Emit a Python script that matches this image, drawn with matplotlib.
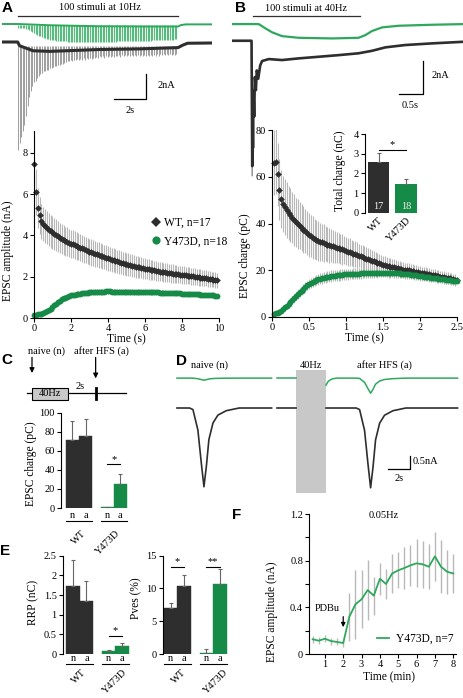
import matplotlib
matplotlib.use('Agg')
import matplotlib.pyplot as plt
import numpy as np
from matplotlib.patches import Rectangle
from matplotlib.ticker import FormatStrFormatter, MultipleLocator
from matplotlib.transforms import blended_transform_factory

# ---- data ----
# A: EPSC amplitude (nA) for 100 stimuli at 10 Hz
wt_amp_10hz = [7.46, 6.10, 5.32, 4.97, 4.68, 4.55, 4.45, 4.36, 4.28, 4.20,
               4.14, 4.07, 4.01, 3.95, 3.88, 3.83, 3.77, 3.72, 3.68, 3.64,
               3.60, 3.57, 3.53, 3.49, 3.45, 3.41, 3.37, 3.33, 3.29, 3.24,
               3.20, 3.17, 3.14, 3.11, 3.08, 3.05, 3.02, 2.99, 2.95, 2.91,
               2.88, 2.86, 2.83, 2.80, 2.77, 2.74, 2.71, 2.68, 2.65, 2.62,
               2.60, 2.58, 2.56, 2.54, 2.51, 2.49, 2.47, 2.45, 2.43, 2.41,
               2.39, 2.37, 2.35, 2.33, 2.32, 2.30, 2.28, 2.26, 2.25, 2.23,
               2.22, 2.21, 2.19, 2.18, 2.16, 2.15, 2.14, 2.12, 2.11, 2.10,
               2.09, 2.08, 2.06, 2.05, 2.04, 2.03, 2.01, 2.00, 1.99, 1.97,
               1.96, 1.95, 1.93, 1.92, 1.90, 1.89, 1.87, 1.86, 1.84, 1.83]
wt_amp_10hz_sem = [1.30, 1.10, 0.95, 0.90, 0.85, 0.83, 0.82, 0.80, 0.80, 0.79,
                   0.78, 0.77, 0.76, 0.75, 0.74, 0.72, 0.71, 0.70, 0.70, 0.69,
                   0.68, 0.68, 0.67, 0.67, 0.66, 0.66, 0.65, 0.65, 0.64, 0.64,
                   0.63, 0.63, 0.62, 0.62, 0.62, 0.61, 0.61, 0.60, 0.60, 0.60,
                   0.59, 0.59, 0.58, 0.58, 0.58, 0.57, 0.57, 0.56, 0.56, 0.56,
                   0.55, 0.55, 0.54, 0.54, 0.53, 0.53, 0.52, 0.52, 0.51, 0.51,
                   0.50, 0.50, 0.49, 0.49, 0.48, 0.48, 0.47, 0.47, 0.47, 0.46,
                   0.46, 0.46, 0.45, 0.45, 0.45, 0.44, 0.44, 0.44, 0.43, 0.43,
                   0.43, 0.42, 0.42, 0.42, 0.41, 0.41, 0.41, 0.40, 0.40, 0.40,
                   0.40, 0.39, 0.39, 0.39, 0.39, 0.38, 0.38, 0.38, 0.38, 0.37]
y473d_amp_10hz = [0.15, 0.16, 0.17, 0.18, 0.20, 0.23, 0.27, 0.32, 0.38, 0.45,
                  0.53, 0.61, 0.69, 0.77, 0.84, 0.90, 0.95, 0.99, 1.03, 1.06,
                  1.09, 1.11, 1.13, 1.15, 1.17, 1.18, 1.20, 1.21, 1.22, 1.23,
                  1.24, 1.25, 1.25, 1.26, 1.26, 1.27, 1.27, 1.28, 1.28, 1.29,
                  1.29, 1.29, 1.28, 1.28, 1.28, 1.27, 1.27, 1.27, 1.27, 1.26,
                  1.26, 1.26, 1.26, 1.26, 1.25, 1.25, 1.25, 1.25, 1.25, 1.25,
                  1.25, 1.25, 1.24, 1.24, 1.24, 1.24, 1.24, 1.24, 1.23, 1.23,
                  1.23, 1.23, 1.22, 1.22, 1.21, 1.21, 1.20, 1.20, 1.19, 1.19,
                  1.18, 1.18, 1.17, 1.17, 1.16, 1.16, 1.15, 1.15, 1.14, 1.14,
                  1.13, 1.13, 1.12, 1.12, 1.11, 1.11, 1.10, 1.09, 1.08, 1.07]
y473d_amp_10hz_sem = [0.04, 0.04, 0.04, 0.05, 0.05, 0.06, 0.06, 0.07, 0.08, 0.08,
                      0.09, 0.09, 0.10, 0.10, 0.11, 0.11, 0.11, 0.12, 0.12, 0.12,
                      0.12, 0.13, 0.12, 0.13, 0.13, 0.12, 0.13, 0.13, 0.13, 0.12,
                      0.13, 0.13, 0.12, 0.13, 0.13, 0.13, 0.12, 0.13, 0.13, 0.13,
                      0.13, 0.12, 0.13, 0.13, 0.12, 0.13, 0.12, 0.13, 0.12, 0.12,
                      0.12, 0.12, 0.13, 0.12, 0.12, 0.12, 0.12, 0.11, 0.12, 0.12,
                      0.12, 0.11, 0.12, 0.11, 0.12, 0.11, 0.11, 0.11, 0.12, 0.11,
                      0.11, 0.11, 0.11, 0.10, 0.11, 0.11, 0.10, 0.11, 0.10, 0.10,
                      0.10, 0.11, 0.10, 0.10, 0.10, 0.10, 0.10, 0.09, 0.10, 0.10,
                      0.10, 0.09, 0.10, 0.09, 0.09, 0.10, 0.09, 0.09, 0.09, 0.09]

# A: example WT trace, peak current of each EPSC (nA) and the tonic level
trace_a_wt_peak = [8.6, 8.1, 7.6, 7.1, 6.6, 5.9, 5.1, 4.4, 3.9, 3.5,
                   3.2, 3.1, 2.85, 2.75, 2.55, 2.5, 2.35, 2.35, 2.2, 2.2,
                   2.1, 2.1, 2.0, 1.95, 1.95, 1.85, 1.85, 1.75, 1.75, 1.65,
                   1.6, 1.5, 1.55, 1.45, 1.5, 1.4, 1.45, 1.35, 1.45, 1.35,
                   1.4, 1.3, 1.4, 1.3, 1.35, 1.25, 1.35, 1.25, 1.3, 1.2,
                   1.25, 1.15, 1.2, 1.15, 1.25, 1.1, 1.2, 1.1, 1.2, 1.1,
                   1.2, 1.1, 1.15, 1.05, 1.2, 1.05, 1.15, 1.05, 1.15, 1.05,
                   1.15, 1.05, 1.1, 1.0, 1.15, 1.0, 1.1, 1.0, 1.15, 1.0,
                   1.1, 1.0, 1.1, 1.0, 1.1, 1.0, 1.1, 0.95, 1.1, 0.95,
                   1.05, 0.95, 1.05, 0.95, 1.05, 0.95, 1.05, 0.95, 1.05, 0.95]
trace_a_wt_tonic_t = [-1.0, -0.02, 0.1, 0.94, 2.0, 3.06, 5.1, 7.6, 10.0, 10.3, 10.6, 12.1]
trace_a_wt_tonic = [0.0, 0.0, -0.3, -0.7, -0.75, -0.7, -0.6, -0.55, -0.45, -0.25, -0.1, -0.08]
trace_a_y_tonic_t = [-1.0, 0.0, 2.0, 5.0, 8.0, 10.0, 10.2, 10.5, 12.1]
trace_a_y_tonic = [0.0, 0.0, -0.1, -0.18, -0.2, -0.2, -0.08, -0.03, -0.03]

# B: EPSC charge (pC) for 100 stimuli at 40 Hz
wt_q_40hz = [66.0, 66.5, 61.0, 54.5, 50.5, 48.5, 47.0, 45.8, 44.6, 43.5,
             42.5, 41.5, 40.6, 39.8, 39.0, 38.2, 37.4, 36.7, 36.0, 35.2,
             34.6, 34.0, 33.4, 32.9, 32.5, 32.1, 31.9, 31.6, 31.3, 31.0,
             30.7, 30.5, 30.2, 29.9, 29.7, 29.4, 29.1, 28.9, 28.6, 28.3,
             28.0, 27.7, 27.4, 27.1, 26.9, 26.6, 26.3, 26.0, 25.6, 25.3,
             25.0, 24.7, 24.4, 24.1, 23.8, 23.5, 23.3, 23.0, 22.7, 22.4,
             22.2, 22.0, 21.8, 21.6, 21.4, 21.2, 21.0, 20.8, 20.6, 20.4,
             20.3, 20.1, 20.0, 19.9, 19.7, 19.6, 19.4, 19.3, 19.1, 19.0,
             18.9, 18.7, 18.5, 18.4, 18.2, 18.1, 17.9, 17.8, 17.6, 17.4,
             17.3, 17.1, 17.0, 16.8, 16.6, 16.5, 16.3, 16.1, 15.9, 15.7]
wt_q_40hz_sem = [14.0, 14.0, 13.5, 13.0, 12.5, 12.0, 12.0, 12.0, 11.5, 11.5,
                 11.0, 11.0, 10.5, 10.5, 10.0, 10.0, 10.0, 9.5, 9.5, 9.5,
                 9.0, 9.0, 8.5, 8.5, 8.5, 8.0, 8.0, 8.0, 7.5, 7.5,
                 7.5, 7.0, 7.0, 7.0, 6.5, 6.5, 6.5, 6.5, 6.0, 6.0,
                 6.0, 6.0, 5.5, 5.5, 5.5, 5.5, 5.0, 5.0, 5.0, 5.0,
                 4.8, 4.7, 4.6, 4.5, 4.4, 4.3, 4.2, 4.1, 4.0, 3.9,
                 3.8, 3.7, 3.6, 3.6, 3.5, 3.4, 3.4, 3.3, 3.2, 3.2,
                 3.1, 3.1, 3.0, 3.0, 2.9, 2.9, 2.8, 2.8, 2.8, 2.7,
                 2.7, 2.7, 2.7, 2.6, 2.6, 2.6, 2.6, 2.6, 2.5, 2.5,
                 2.5, 2.5, 2.5, 2.5, 2.5, 2.5, 2.5, 2.5, 2.5, 2.5]
y473d_q_40hz = [1.4, 1.6, 1.9, 2.3, 2.7, 3.3, 4.1, 4.9, 5.7, 6.5,
                7.3, 8.1, 8.9, 9.7, 10.5, 11.3, 12.1, 12.8, 13.5, 14.1,
                14.6, 15.0, 15.4, 15.8, 16.1, 16.4, 16.6, 16.8, 17.0, 17.2,
                17.3, 17.5, 17.6, 17.7, 17.8, 17.9, 18.0, 18.1, 18.2, 18.3,
                18.3, 18.4, 18.4, 18.5, 18.5, 18.6, 18.6, 18.7, 18.7, 18.8,
                18.8, 18.8, 18.9, 18.9, 18.9, 19.0, 19.0, 19.0, 19.0, 19.0,
                19.0, 19.0, 18.9, 18.9, 18.9, 18.8, 18.8, 18.7, 18.7, 18.6,
                18.5, 18.4, 18.3, 18.2, 18.1, 18.0, 17.9, 17.8, 17.7, 17.5,
                17.4, 17.3, 17.2, 17.1, 16.9, 16.8, 16.7, 16.6, 16.5, 16.4,
                16.3, 16.2, 16.1, 16.0, 15.9, 15.8, 15.7, 15.6, 15.4, 15.3]
y473d_q_40hz_sem = [0.5, 0.6, 0.7, 0.8, 0.9, 1.0, 1.1, 1.2, 1.3, 1.4,
                    1.5, 1.6, 1.7, 1.8, 1.9, 2.0, 2.0, 2.1, 2.1, 2.2,
                    2.2, 2.3, 2.3, 2.3, 2.4, 2.4, 2.4, 2.4, 2.4, 2.4,
                    2.4, 2.4, 2.4, 2.4, 2.4, 2.4, 2.4, 2.3, 2.4, 2.3,
                    2.3, 2.3, 2.3, 2.3, 2.3, 2.3, 2.2, 2.3, 2.2, 2.2,
                    2.2, 2.2, 2.2, 2.2, 2.2, 2.1, 2.2, 2.1, 2.1, 2.1,
                    2.1, 2.1, 2.1, 2.1, 2.0, 2.1, 2.0, 2.0, 2.0, 2.0,
                    2.0, 2.0, 2.0, 1.9, 2.0, 1.9, 1.9, 1.9, 1.9, 1.9,
                    1.9, 1.9, 1.8, 1.9, 1.8, 1.8, 1.8, 1.8, 1.8, 1.8,
                    1.8, 1.7, 1.8, 1.7, 1.7, 1.7, 1.7, 1.7, 1.7, 1.7]

# B: example traces at 40 Hz (s, nA)
trace_b_wt_t = [-0.42, -0.01, 0.005, 0.012, 0.02, 0.03, 0.045, 0.06, 0.08, 0.1, 0.13,
                0.17, 0.21, 0.35, 0.625, 0.97, 1.39, 1.81, 2.22, 2.5, 2.78, 3.19, 3.75, 4.42]
trace_b_wt = [0.0, 0.0, -7.6, -4.0, -6.5, -3.0, -4.6, -2.2, -3.0, -1.8, -2.3,
              -1.5, -1.23, -1.11, -1.17, -1.07, -0.97, -0.87, -0.76, -0.61, -0.4, -0.26, -0.16, -0.06]
trace_b_y_t = [-0.42, 0.14, 0.28, 0.42, 0.625, 0.97, 1.67, 2.22, 2.36, 2.5, 2.71, 3.06, 3.75, 4.42]
trace_b_y = [0.0, 0.0, -0.26, -0.5, -0.73, -0.83, -0.87, -0.83, -0.67, -0.42, -0.2, -0.1, -0.04, 0.0]

# B inset: total charge (nC)
groups = ['WT', 'Y473D']
total_charge = [2.6, 1.45]
total_charge_sem = [0.42, 0.27]
total_charge_n = [17, 18]

# C: EPSC charge naive (n) / after HFS (a)
conds = ['n', 'a', 'n', 'a']
epsc_q = [71.0, 75.5, 1.0, 25.0]
epsc_q_sem = [20.5, 17.5, 0.5, 10.3]

# D: example EPSCs, naive and after HFS
epsc_dt = [-1.3, -1.0, -0.55, -0.24, 0.0, 0.22, 0.45, 0.82, 1.27, 2.03, 3.2]
epsc_shape = [0.0, 0.02, 0.28, 0.70, 1.0, 0.74, 0.40, 0.19, 0.09, 0.034, 0.0]
d_peak_t = [2.45, 17.6]
d_wt_amp = [3.03, 3.07]
d_y_amp = [0.08, 0.58]

# E: RRP and Pves
rrp = [1.73, 1.35, 0.07, 0.20]
rrp_sem = [0.66, 0.51, 0.03, 0.08]
pves = [7.0, 10.4, 0.2, 10.7]
pves_sem = [0.8, 1.7, 0.5, 2.3]

# F: PDBu, one sweep every 20 s
f_time = np.arange(1, 25) / 3
f_amp = [0.126, 0.114, 0.131, 0.111, 0.103, 0.094, 0.32, 0.426, 0.469, 0.548, 0.50, 0.645,
         0.60, 0.69, 0.717, 0.737, 0.76, 0.777, 0.769, 0.748, 0.837, 0.748, 0.705, 0.69]
f_sem = [0.03, 0.03, 0.03, 0.03, 0.03, 0.03, 0.206, 0.294, 0.25, 0.257, 0.163, 0.137,
         0.131, 0.171, 0.154, 0.177, 0.174, 0.206, 0.203, 0.194, 0.211, 0.229, 0.19, 0.171]

t_10hz = np.arange(100) / 10.0
t_40hz = np.arange(1, 101) / 40.0

# ---- style ----
plt.rcParams['font.family'] = ['Liberation Serif', 'DejaVu Serif']
plt.rcParams['font.size'] = 7.5
plt.rcParams['axes.linewidth'] = 0.8
for k in ('xtick', 'ytick'):
    plt.rcParams[k + '.major.size'] = 3
    plt.rcParams[k + '.minor.size'] = 3
    plt.rcParams[k + '.major.width'] = 0.8
    plt.rcParams[k + '.minor.width'] = 0.8
    plt.rcParams[k + '.major.pad'] = 1.5
    plt.rcParams[k + '.labelsize'] = 7.5
plt.rcParams['axes.labelsize'] = 8.3

DARK = '#2e2e2e'
GREEN = '#168a47'
GREEN_TR = '#2ea85c'
GREEN_LT = '#55bd7c'
GREY = '#b8b8b8'
ERR = '#666666'
SANS = 'Liberation Sans'

W, H = 464, 698
fig = plt.figure(figsize=(W / 100, H / 100), dpi=100)


def px_axes(left, top, right, bottom):
    return fig.add_axes([left / W, 1 - bottom / H, (right - left) / W, (bottom - top) / H])


def fig_text(x, y, s, **kw):
    fig.text(x / W, 1 - y / H, s, **kw)


def clean(ax):
    ax.spines['top'].set_visible(False)
    ax.spines['right'].set_visible(False)
    ax.patch.set_alpha(0)


def group_axis(ax, pos, under, dy, dx=(0, 0), pad=1.5):
    ax.spines['bottom'].set_visible(False)
    ax.set_xticks(pos)
    ax.set_xticklabels(conds)
    ax.tick_params(axis='x', length=0, pad=pad)
    tr = blended_transform_factory(ax.transData, ax.transAxes)
    for gi, g in enumerate(groups):
        p0, p1 = pos[2 * gi], pos[2 * gi + 1]
        ax.plot([p0 - 0.5, p1 + 0.5], [under, under], transform=tr, color='k', lw=0.8, clip_on=False)
        ax.annotate(g, xy=((p0 + p1) / 2, 0), xycoords=tr, xytext=(dx[gi], dy),
                    textcoords='offset points', rotation=45, ha='right', va='top',
                    rotation_mode='anchor', annotation_clip=False)


def sig(ax, x0, x1, y, s):
    ax.plot([x0, x1], [y, y], color='k', lw=0.8, clip_on=False)
    ax.annotate(s, xy=((x0 + x1) / 2, y), xytext=(0, 0.5), textcoords='offset points',
                ha='center', va='bottom', annotation_clip=False)


def bar_panel(ax, vals, sems, pos):
    colors = [DARK, DARK, GREEN, GREEN]
    ax.bar(pos, vals, width=1.0, color=colors, edgecolor=colors, lw=0.3)
    ax.errorbar(pos, vals, yerr=[np.zeros(len(vals)), sems], fmt='none', ecolor=ERR,
                elinewidth=0.8, capsize=1.5, capthick=0.8)
    clean(ax)


# ---- A: traces ----
ax = px_axes(2, 0, 212, 160)
ax.set_xlim(-1.0, 12.125)
ax.set_ylim(-9.44, 3.36)
ax.axis('off')
g_off = 1.44
ax.vlines(t_10hz, g_off - 0.1, g_off - 0.15 - np.array(y473d_amp_10hz), color=GREEN_LT, lw=0.8)
ax.plot(trace_a_y_tonic_t, np.array(trace_a_y_tonic) + g_off, color=GREEN_TR, lw=1.4)
ax.vlines(t_10hz, -0.35, -np.array(trace_a_wt_peak), color='#a0a0a0', lw=0.75)
ax.plot(trace_a_wt_tonic_t, trace_a_wt_tonic, color=DARK, lw=2.2)
ax.plot([0, 10], [2.08, 2.08], color=DARK, lw=0.9)
ax.text(5.1, 2.75, '100 stimuli at 10Hz', ha='center', va='center')
ax.plot([6, 8, 8], [-4.56, -4.56, -2.56], color='k', lw=0.9)
ax.text(8.7, -3.44, '2nA', ha='left', va='center')
ax.text(7.0, -5.45, '2s', ha='center', va='center')

# ---- A: amplitudes ----
ax = px_axes(34, 131, 219, 318)
ax.errorbar(t_10hz, wt_amp_10hz, yerr=wt_amp_10hz_sem, fmt='none', ecolor=GREY, elinewidth=0.8)
ax.errorbar(t_10hz, y473d_amp_10hz, yerr=y473d_amp_10hz_sem, fmt='none', ecolor=GREY, elinewidth=0.8)
ax.plot(t_10hz, wt_amp_10hz, 'D', color=DARK, ms=3.4, mew=0, clip_on=False, label='WT, n=17')
ax.plot(t_10hz, y473d_amp_10hz, 'o', color=GREEN, ms=4.2, mew=0, clip_on=False, label='Y473D, n=18')
ax.set_xlim(0, 10)
ax.set_ylim(0, 9.05)
ax.set_xticks([0, 2, 4, 6, 8, 10])
ax.set_yticks([0, 2, 4, 6, 8])
ax.set_xlabel('Time (s)')
ax.set_ylabel('EPSC amplitude (nA)')
ax.xaxis.set_label_coords(0.5, -0.08)
ax.yaxis.set_label_coords(-0.108, 0.36)
ax.legend(loc='upper left', bbox_to_anchor=(0.635, 0.54), frameon=False, handlelength=0.7,
          handletextpad=0.4, labelspacing=0.55, borderpad=0, borderaxespad=0, fontsize=8.3,
          markerscale=1.4)
clean(ax)

# ---- B: traces ----
ax = px_axes(232, 0, 464, 180)
ax.set_xlim(-0.417, 4.417)
ax.set_ylim(-8.44, 2.47)
ax.axis('off')
ax.plot(trace_b_y_t, np.array(trace_b_y) + 1.01, color=GREEN_TR, lw=1.6)
ax.plot(trace_b_wt_t[:4], [0.0, 0.0, -8.2, -4.0], color='#9a9a9a', lw=0.8)
ax.plot(trace_b_wt_t, trace_b_wt, color=DARK, lw=1.9)
ax.plot([0.02, 2.25], [1.5, 1.5], color=DARK, lw=0.9)
ax.text(1.125, 1.98, '100 stimuli at 40Hz', ha='center', va='center')
ax.plot([3.06, 3.56, 3.56], [-3.23, -3.23, -1.23], color='k', lw=0.9)
ax.text(3.75, -2.08, '2nA', ha='left', va='center')
ax.text(3.29, -3.9, '0.5s', ha='center', va='center')

# ---- B: charge ----
ax = px_axes(272, 130, 457, 317)
ax.errorbar(t_40hz, wt_q_40hz, yerr=wt_q_40hz_sem, fmt='none', ecolor=GREY, elinewidth=0.8)
ax.errorbar(t_40hz, y473d_q_40hz, yerr=y473d_q_40hz_sem, fmt='none', ecolor=GREY, elinewidth=0.8)
ax.plot(t_40hz, wt_q_40hz, 'D', color=DARK, ms=3.4, mew=0, clip_on=False)
ax.plot(t_40hz, y473d_q_40hz, 'o', color=GREEN, ms=4.2, mew=0, clip_on=False)
ax.set_xlim(0, 2.5)
ax.set_ylim(0, 80)
ax.set_xticks([0, 0.5, 1, 1.5, 2, 2.5])
ax.xaxis.set_major_formatter(FormatStrFormatter('%g'))
ax.set_yticks([0, 20, 40, 60, 80])
ax.set_xlabel('Time (s)')
ax.set_ylabel('EPSC charge (pC)')
ax.xaxis.set_label_coords(0.5, -0.08)
ax.yaxis.set_label_coords(-0.114, 0.33)
clean(ax)

# ---- B inset ----
ax = px_axes(365, 134, 421, 213)
ax.bar([0, 1], total_charge, width=0.78, color=[DARK, GREEN])
ax.errorbar([0, 1], total_charge, yerr=[[0, 0], total_charge_sem], fmt='none', ecolor=ERR,
            elinewidth=0.8, capsize=1.5, capthick=0.8)
for x, n in zip([0, 1], total_charge_n):
    ax.text(x, 0.33, str(n), color='#eeeeee', ha='center', va='center')
ax.set_xlim(-0.49, 1.53)
ax.set_ylim(0, 4)
ax.set_yticks([0, 1, 2, 3, 4])
ax.set_xticks([0, 1])
ax.set_xticklabels(groups, rotation=45, ha='right', rotation_mode='anchor')
ax.tick_params(axis='x', length=0, pad=2)
ax.spines['bottom'].set_visible(False)
sig(ax, 0, 1, 3.19, '*')
ax.set_ylabel('Total charge (nC)')
ax.yaxis.set_label_coords(-0.34, 0.54)
clean(ax)

# ---- C: protocol ----
ax = px_axes(20, 343, 140, 403)
ax.set_xlim(-0.833, 7.5)
ax.set_ylim(0, 1)
ax.axis('off')
ax.plot([-0.35, 6.5], [0.167, 0.167], color='k', lw=0.9)
ax.add_patch(Rectangle((0, 0.05), 2.5, 0.205, fc='#c9c9c9', ec='k', lw=0.8, zorder=3))
ax.text(1.25, 0.15, '40Hz', ha='center', va='center', zorder=4)
ax.plot([4.42, 4.42], [0.067, 0.25], color='k', lw=2.0)
ax.text(3.33, 0.28, '2s', ha='center', va='center')
ax.annotate('', xy=(0, 0.5), xytext=(0, 0.76),
            arrowprops=dict(arrowstyle='-|>', color='k', lw=0.9, mutation_scale=7, shrinkA=0, shrinkB=0))
ax.annotate('', xy=(4.42, 0.41), xytext=(4.42, 0.76),
            arrowprops=dict(arrowstyle='-|>', color='k', lw=0.9, mutation_scale=7, shrinkA=0, shrinkB=0))
ax.text(1.04, 0.86, 'naive (n)', ha='center', va='center')
ax.text(4.8, 0.86, 'after HFS (a)', ha='center', va='center')

pos = [0, 1, 2.65, 3.65]

# ---- C: bars ----
ax = px_axes(61, 412.7, 128, 508)
bar_panel(ax, epsc_q, epsc_q_sem, pos)
ax.set_xlim(-0.88, 4.25)
ax.set_ylim(0, 100)
ax.set_yticks([0, 20, 40, 60, 80, 100])
group_axis(ax, pos, -0.135, -15, dx=(2, 1), pad=2.5)
sig(ax, pos[2], pos[3], 45.7, '*')
ax.set_ylabel('EPSC charge (pC)')
ax.yaxis.set_label_coords(-0.36, 0.47)

# ---- D: example EPSCs ----
ax = px_axes(170, 355, 464, 500)
ax.set_xlim(-0.636, 26.09)
ax.set_ylim(-3.54, 2.04)
ax.axis('off')
dt = np.array(epsc_dt)
shape = np.array(epsc_shape)
gd = 1.15
ax.add_patch(Rectangle((10.82, -3.27), 2.73, 4.73, fc='#c8c8c8', ec='none'))
# naive
ax.plot(np.r_[0, d_peak_t[0] + dt, 8.6], np.r_[0, -d_wt_amp[0] * shape, 0], color=DARK, lw=1.2)
ax.plot(np.r_[0, d_peak_t[0] + dt, 8.6], gd + np.r_[0, -d_y_amp[0] * shape, 0], color=GREEN_TR, lw=1.1)
# just before HFS
ax.plot([9.1, 10.82], [0, 0], color=DARK, lw=1.2)
ax.plot([9.1, 10.82], [gd, gd], color=GREEN_TR, lw=1.1)
# after HFS
ax.plot(np.r_[13.55, d_peak_t[1] + dt, 25.5], np.r_[0, -d_wt_amp[1] * shape, 0], color=DARK, lw=1.2)
ax.plot(np.r_[13.55, 13.75, 14.1, 14.5, d_peak_t[1] + dt, 25.5],
        gd + np.r_[-0.27, -0.12, -0.03, 0, -d_y_amp[1] * shape, 0], color=GREEN_TR, lw=1.1)
ax.text(3.0, 1.65, 'naive (n)', ha='center', va='center')
ax.text(12.2, 1.65, '40Hz', ha='center', va='center')
ax.text(18.9, 1.65, 'after HFS (a)', ha='center', va='center')
ax.plot([19.2, 21.2, 21.2], [-2.35, -2.35, -1.85], color='k', lw=0.9)
ax.text(21.45, -2.05, '0.5nA', ha='left', va='center')
ax.text(20.2, -2.72, '2s', ha='center', va='center')

# ---- E: RRP ----
ax = px_axes(63, 555.7, 130, 654)
bar_panel(ax, rrp, rrp_sem, pos)
ax.set_xlim(-0.75, 4.25)
ax.set_ylim(0, 2.5)
ax.set_yticks([0, 0.5, 1, 1.5, 2, 2.5])
ax.yaxis.set_major_formatter(FormatStrFormatter('%g'))
group_axis(ax, pos, -0.10, -10, dx=(1, 5), pad=0)
sig(ax, pos[2], pos[3], 0.46, '*')
ax.set_ylabel('RRP (nC)')
ax.yaxis.set_label_coords(-0.36, 0.52)

# ---- E: Pves ----
ax = px_axes(162.7, 555.7, 228, 654)
bar_panel(ax, pves, pves_sem, pos)
ax.set_xlim(-0.58, 4.25)
ax.set_ylim(0, 15)
ax.set_yticks([0, 5, 10, 15])
group_axis(ax, pos, -0.10, -10, dx=(3, 7), pad=0)
sig(ax, pos[0], pos[1], 13.3, '*')
sig(ax, pos[2], pos[3], 13.3, '**')
ax.set_ylabel('Pves (%)')
ax.yaxis.set_label_coords(-0.32, 0.57)

# ---- F: PDBu ----
ax = px_axes(309.3, 514, 456, 654)
ax.errorbar(f_time, f_amp, yerr=f_sem, fmt='none', ecolor=GREY, elinewidth=1.0)
ax.plot(f_time, f_amp, color=GREEN_TR, lw=1.3, label='Y473D, n=7')
ax.set_xlim(0.15, 8.15)
ax.set_ylim(0, 1.2)
ax.set_xticks(range(1, 9))
ax.set_yticks([0, 0.4, 0.8, 1.2])
ax.yaxis.set_minor_locator(MultipleLocator(0.2))
ax.yaxis.set_major_formatter(FormatStrFormatter('%g'))
ax.set_xlabel('Time (min)')
ax.set_ylabel('EPSC amplitude (nA)')
ax.xaxis.set_label_coords(0.54, -0.125)
ax.yaxis.set_label_coords(-0.213, 0.30)
ax.text(4.22, 1.19, '0.05Hz', ha='center', va='center')
ax.text(1.13, 0.386, 'PDBu', ha='center', va='center')
ax.annotate('', xy=(2, 0.23), xytext=(2, 0.32),
            arrowprops=dict(arrowstyle='-|>', color='k', lw=0.9, mutation_scale=6, shrinkA=0, shrinkB=0))
ax.legend(loc='center right', bbox_to_anchor=(0.985, 0.107), frameon=False, handlelength=1.1,
          handletextpad=0.6, borderpad=0, borderaxespad=0, fontsize=8.3)
clean(ax)

# ---- panel letters ----
for x, y, s in [(2, 1, 'A'), (235, 1, 'B'), (1, 353, 'C'), (176, 354, 'D'), (0, 544, 'E'), (232, 508, 'F')]:
    fig_text(x, y, s, family=SANS, weight='bold', fontsize=11, va='top', ha='left')

fig.savefig('out.png', dpi=100)
